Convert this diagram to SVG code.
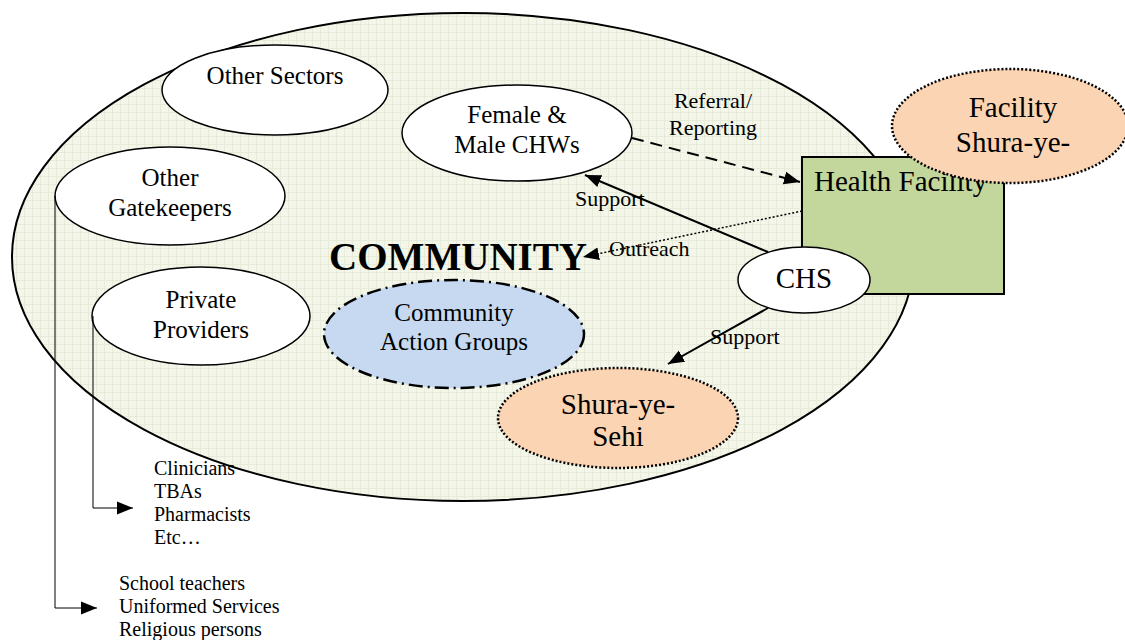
<svg xmlns="http://www.w3.org/2000/svg" width="1125" height="640" viewBox="0 0 1125 640">
<defs>
<pattern id="grid" width="8" height="8" patternUnits="userSpaceOnUse">
<rect width="8" height="8" fill="#f3f6e9"/>
<path d="M0 0.5H8M0.5 0V8" stroke="#e6ecd9" stroke-width="1"/>
</pattern>
<marker id="ahb" viewBox="0 0 10 10" refX="10" refY="5" markerWidth="16" markerHeight="16" markerUnits="userSpaceOnUse" orient="auto">
<path d="M0,1L10,5L0,9z" fill="#000"/>
</marker>
</defs>
<style>
text{font-family:"Liberation Serif","Times New Roman",serif;fill:#000}
.n{font-size:25px;text-anchor:middle}
.big{font-size:29px;text-anchor:middle}
.lbl{font-size:22px}
.lst{font-size:20px}
.wh{fill:#fff;stroke:#000;stroke-width:1.5}
</style>
<g id="community">
<ellipse cx="463" cy="257" rx="451" ry="244" fill="url(#grid)" stroke="#000" stroke-width="2"/>
<text x="458" y="270" font-size="39" font-weight="bold" text-anchor="middle">COMMUNITY</text>
</g>
<g id="other-sectors">
<ellipse class="wh" cx="275" cy="90" rx="113" ry="45"/>
<text class="n" x="275" y="84">Other Sectors</text>
</g>
<g id="female-male-chws">
<ellipse class="wh" cx="517" cy="133" rx="115" ry="48"/>
<text class="n" x="517" y="123">Female &amp;</text>
<text class="n" x="517" y="153">Male CHWs</text>
</g>
<g id="other-gatekeepers">
<ellipse class="wh" cx="170" cy="196" rx="115" ry="49"/>
<text class="n" x="170" y="186">Other</text>
<text class="n" x="170" y="216">Gatekeepers</text>
</g>
<g id="private-providers">
<ellipse class="wh" cx="201" cy="316" rx="109" ry="49"/>
<text class="n" x="201" y="308">Private</text>
<text class="n" x="201" y="338">Providers</text>
</g>
<g id="community-action-groups">
<ellipse cx="454" cy="334" rx="130" ry="54" fill="#c6d9f1" stroke="#000" stroke-width="2.5" stroke-dasharray="14,5,2,5"/>
<text class="n" x="454" y="321">Community</text>
<text class="n" x="454" y="350">Action Groups</text>
</g>
<g id="shura-ye-sehi">
<ellipse cx="618" cy="418" rx="120" ry="50" fill="#fbd4b4" stroke="#000" stroke-width="2.5" stroke-dasharray="2,2"/>
<text class="big" x="618" y="414">Shura-ye-</text>
<text class="big" x="618" y="446">Sehi</text>
</g>
<g id="health-facility">
<rect x="802" y="157" width="202" height="137" fill="#c3d69b" stroke="#000" stroke-width="2"/>
<text x="814" y="191" font-size="29">Health Facility</text>
</g>
<g id="facility-shura">
<ellipse cx="1010" cy="126" rx="118" ry="57" fill="#fbd4b4" stroke="#000" stroke-width="2.5" stroke-dasharray="2,2"/>
<text class="big" x="1013" y="117">Facility</text>
<text class="big" x="1013" y="152">Shura-ye-</text>
</g>
<g id="chs">
<ellipse class="wh" cx="804" cy="280" rx="66" ry="33"/>
<text class="big" x="804" y="288">CHS</text>
</g>
<g id="connectors" fill="none" stroke="#000">
<line x1="632" y1="138" x2="800" y2="182" stroke-width="2" stroke-dasharray="12,7" marker-end="url(#ahb)"/>
<line x1="768" y1="252" x2="585" y2="175" stroke-width="2" marker-end="url(#ahb)"/>
<line x1="802" y1="211" x2="583" y2="257" stroke-width="1.5" stroke-dasharray="2,2" marker-end="url(#ahb)"/>
<line x1="768" y1="308" x2="668" y2="364" stroke-width="2" marker-end="url(#ahb)"/>
<polyline points="55,196 55,608 97,608" stroke-width="1" marker-end="url(#ahb)"/>
<polyline points="93,316 93,508 133,508" stroke-width="1" marker-end="url(#ahb)"/>
</g>
<g id="labels">
<text class="lbl" x="713" y="108" text-anchor="middle">Referral/</text>
<text class="lbl" x="713" y="135" text-anchor="middle">Reporting</text>
<text class="lbl" x="575" y="206">Support</text>
<text class="lbl" x="609" y="256">Outreach</text>
<text class="lbl" x="710" y="344">Support</text>
<text class="lst" x="154" y="475">Clinicians</text>
<text class="lst" x="154" y="498">TBAs</text>
<text class="lst" x="154" y="521">Pharmacists</text>
<text class="lst" x="154" y="544">Etc…</text>
<text class="lst" x="119" y="590">School teachers</text>
<text class="lst" x="119" y="613">Uniformed Services</text>
<text class="lst" x="119" y="636">Religious persons</text>
</g>
</svg>
